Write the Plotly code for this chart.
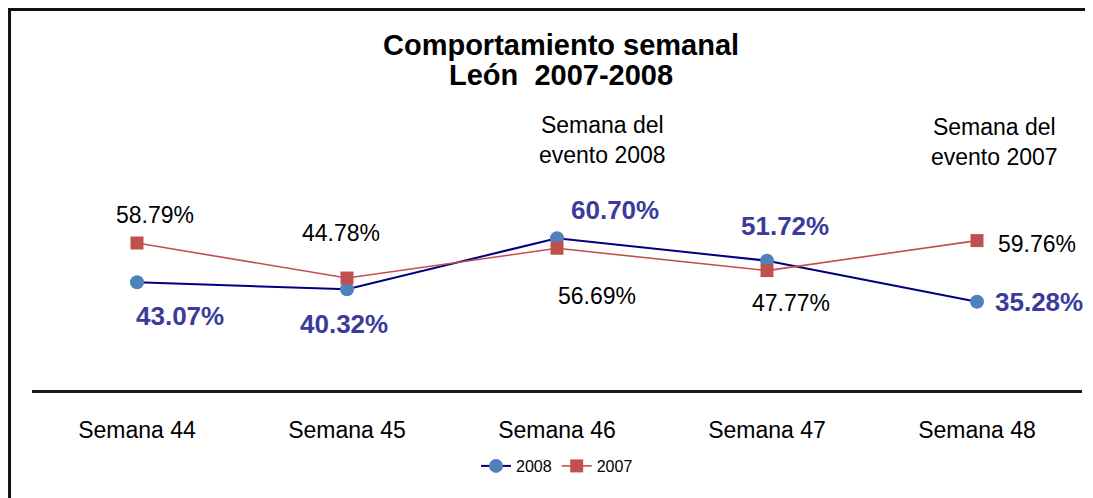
import plotly.graph_objects as go

semanas = ['Semana 44', 'Semana 45', 'Semana 46', 'Semana 47', 'Semana 48']
pct_2008 = [43.07, 40.32, 60.70, 51.72, 35.28]
pct_2007 = [58.79, 44.78, 56.69, 47.77, 59.76]

# label offsets (px) around each marker
off_2008 = [(43, -34), (-3, -35), (58, 28), (18, 35), (62, 0)]
off_2007 = [(18, 28), (-6, 45), (40, -48), (24, -32), (60, -3)]

FONT = 'Liberation Sans, Arial, sans-serif'

fig = go.Figure()
fig.add_trace(go.Scatter(
    x=semanas, y=pct_2008, name='2008', mode='lines+markers',
    line=dict(color='#000080', width=2),
    marker=dict(symbol='circle', size=14, color='#4F81BD'),
))
fig.add_trace(go.Scatter(
    x=semanas, y=pct_2007, name='2007', mode='lines+markers',
    line=dict(color='#C0504D', width=1.6),
    marker=dict(symbol='square', size=13, color='#C0504D'),
))

anns = []
for s, v, (dx, dy) in zip(semanas, pct_2008, off_2008):
    anns.append(dict(x=s, y=v, text=f'{v:.2f}%', showarrow=False,
                     xshift=dx, yshift=dy, xanchor='center', yanchor='middle',
                     font=dict(size=26, color='#3B3B9B', family=FONT, weight='bold')))
for s, v, (dx, dy) in zip(semanas, pct_2007, off_2007):
    anns.append(dict(x=s, y=v, text=f'{v:.2f}%', showarrow=False,
                     xshift=dx, yshift=dy, xanchor='center', yanchor='middle',
                     font=dict(size=23, color='black', family=FONT)))


def note(x, y, text, size, bold=False):
    if bold:
        text = f'<b>{text}</b>'
    return dict(xref='paper', yref='paper', x=x, y=y, text=text, showarrow=False,
                xanchor='center', yanchor='middle',
                font=dict(size=size, color='black', family=FONT))


anns += [
    note(0.5038, 1.38, 'Comportamiento semanal', 29, bold=True),
    note(0.5038, 1.26, 'León  2007-2008', 29, bold=True),
    note(0.5429, 1.0, 'Semana del<br>evento 2008', 23),
    note(0.9171, 0.992, 'Semana del<br>evento 2007', 23),
]

fig.update_layout(
    width=1085, height=490,
    margin=dict(l=24, r=11, t=132, b=108),
    paper_bgcolor='white', plot_bgcolor='white',
    showlegend=True,
    legend=dict(orientation='h', x=0.5, xanchor='center', y=-0.304, yanchor='middle',
                font=dict(size=16, family=FONT, color='black')),
    xaxis=dict(range=[-0.5, 4.5], showgrid=False, zeroline=False,
               showline=True, linecolor='#1a1a1a', linewidth=3,
               ticks='', ticklabelstandoff=17,
               tickfont=dict(size=23, family=FONT, color='black')),
    yaxis=dict(range=[0, 100], visible=False, showgrid=False, zeroline=False),
    annotations=anns,
    shapes=[
        dict(type='line', xref='paper', yref='paper',
             x0=-0.03, x1=1.06, y0=1.522, y1=1.522,
             line=dict(color='#111', width=3)),
        dict(type='line', xref='paper', yref='paper',
             x0=-0.0214, x1=-0.0214, y0=1.53, y1=-0.45,
             line=dict(color='#111', width=3)),
    ],
)

fig.write_html('out.html')
